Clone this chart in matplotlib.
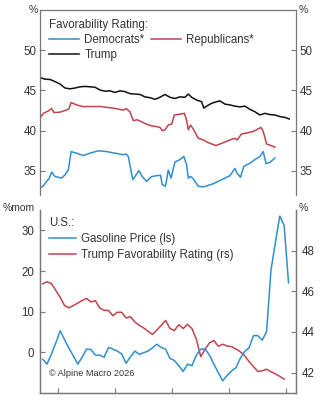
import matplotlib
matplotlib.use("Agg")
import matplotlib.pyplot as plt
import numpy as np

plt.rcParams['font.family'] = ['Liberation Sans', 'DejaVu Sans']

BLUE = '#2f8fce'
RED = '#c0444b'
BLACK = '#111111'
SPINE = '#777777'
TXT = '#333333'

# ---------------- Top panel data (day index) ----------------
trump_days = [0, 9, 18, 27, 36, 45, 54, 63, 72, 81, 90, 99, 108, 117, 126, 135, 144, 153,
              162, 171, 180, 189, 198, 207, 216, 225, 234, 243, 252, 261, 267, 273, 282,
              291, 295, 300, 309, 318, 324, 333, 342, 351, 360, 369, 378, 387, 396, 405,
              414, 423, 432, 441, 449]
trump_vals = [46.6, 46.4, 46.36, 46.1, 45.8, 45.3, 45.2, 45.3, 45.45, 45.5, 45.45, 45.4,
              45.05, 44.9, 44.95, 44.75, 44.95, 44.85, 44.6, 44.55, 44.5, 44.2, 44.1, 43.9,
              44.15, 44.5, 44.15, 44.0, 44.2, 44.15, 44.55, 44.15, 43.8, 43.6, 42.8, 43.05,
              43.4, 43.6, 43.7, 43.3, 43.2, 43.05, 42.95, 43.05, 42.65, 42.35, 41.95, 42.15,
              42.0, 41.95, 41.75, 41.65, 41.45]

rep_days = [0, 6, 15, 21, 25, 36, 45, 52, 56, 66, 77, 108, 132, 150, 155, 162, 168, 175,
            183, 192, 201, 210, 216, 220, 225, 231, 237, 242, 252, 260, 264, 267, 271, 276,
            285, 294, 303, 317, 330, 342, 351, 355, 363, 372, 384, 398, 402, 408, 414, 423]
rep_vals = [41.55, 42.15, 42.45, 42.75, 42.25, 42.3, 42.5, 42.7, 43.5, 43.2, 43.0, 43.0,
            42.8, 42.55, 42.75, 42.35, 41.25, 41.35, 41.1, 40.8, 40.6, 40.5, 40.4, 40.0,
            40.1, 40.7, 40.8, 41.95, 42.05, 42.15, 41.3, 40.1, 40.7, 40.2, 39.05, 38.85,
            38.5, 38.15, 38.5, 38.85, 39.05, 38.85, 39.6, 39.7, 39.9, 40.4, 39.9, 38.35,
            38.2, 37.95]

dem_days = [0, 6, 12, 17, 21, 27, 39, 45, 51, 56, 66, 78, 90, 105, 120, 135, 150, 155,
            159, 167, 171, 178, 184, 192, 201, 210, 217, 220, 226, 231, 236, 243, 252, 259,
            264, 267, 271, 275, 285, 294, 312, 327, 342, 351, 355, 361, 367, 378, 387, 396,
            402, 407, 414, 423]
dem_vals = [32.85, 33.15, 33.7, 34.1, 34.85, 34.3, 34.1, 34.5, 35.1, 37.4, 37.2, 36.9,
            37.2, 37.5, 37.4, 37.2, 37.0, 37.1, 36.8, 33.9, 34.3, 35.05, 34.3, 33.7, 34.3,
            34.4, 34.45, 33.3, 33.1, 35.1, 34.1, 36.1, 36.4, 36.8, 35.75, 34.1, 34.3, 34.1,
            33.1, 33.0, 33.4, 33.9, 34.4, 35.3, 34.7, 34.2, 35.55, 35.95, 36.4, 36.8, 37.4,
            35.9, 36.05, 36.6]

# ---------------- Bottom panel data (monthly) ----------------
gasoline_mom = [-1.7, -2.9, -0.4, 2.3, 5.3, 3.1, 1.0, -0.9, -2.9, -1.2,
                0.8, 0.7, -0.7, -0.7, -1.2, 1.2, 0.8, 0.3, -0.4, -2.7,
                -1.1, 0.3, -0.5, -0.1, 0.3, 1.1, 2.0, 1.2, 0.8, -1.5,
                -2.0, -3.3, -4.7, -2.9, -3.3, -0.7, 0.8, 0.8, -0.7, -2.9,
                -5.0, -7.0, -5.7, -4.6, -3.8, -1.5, 0.2, 1.1, 4.1, 4.1,
                3.0, 5.1, 20.2, 27.0, 33.5, 31.2, 17.1]
trump_fav_monthly = [46.37, 46.47, 46.38, 46.05, 45.70, 45.30, 45.19, 45.30, 45.42, 45.55,
                     45.65, 45.48, 45.54, 45.18, 45.07, 45.06, 44.80, 44.97, 44.97, 44.69,
                     44.75, 44.49, 44.33, 44.20, 44.04, 43.88, 44.09, 44.33, 44.57, 44.17,
                     44.07, 44.36, 44.17, 44.38, 44.17, 43.65, 42.79, 43.15, 43.47, 43.58,
                     43.30, 43.40, 43.31, 43.28, 43.17, 43.03, 42.84, 42.55, 42.30, 42.06,
                     42.09, 42.17, 42.05, 41.94, 41.82, 41.68]

top_ticks = [35, 40, 45, 50]
left_ticks_b = [0, 10, 20, 30]
right_ticks_b = [42, 44, 46, 48]

W, H = 324, 400
fig = plt.figure(figsize=(W / 100, H / 100), dpi=100)

def fx(p):
    return p / W

def fy(p):
    return 1 - p / H

LW = 1.1
FS = 8.3

# ---------------- Top axes ----------------
ax1 = fig.add_axes([fx(40), fy(195), (296 - 40) / W, (195 - 10) / H])
l_dem, = ax1.plot(dem_days, dem_vals, color=BLUE, lw=LW)
l_rep, = ax1.plot(rep_days, rep_vals, color=RED, lw=LW)
l_tr, = ax1.plot(trump_days, trump_vals, color=BLACK, lw=LW)
ax1.set_xlim(0, 461)
ax1.set_ylim(32, 55)
ax1.set_yticks(top_ticks)
ax1.set_xticks([])
ax1.tick_params(axis='y', direction='in', length=3.5, width=0.8, colors=SPINE,
                labelcolor=TXT, labelsize=FS, pad=2.5, right=True, labelright=True)
for s in ['left', 'right', 'top']:
    ax1.spines[s].set_color(SPINE)
    ax1.spines[s].set_linewidth(0.9)
ax1.spines['bottom'].set_visible(False)

leg1 = ax1.legend([l_dem, l_tr, l_rep], ['Democrats*', 'Trump', 'Republicans*'],
                  ncol=2, frameon=False, title='Favorability Rating:',
                  alignment='left', fontsize=FS, title_fontsize=FS,
                  handlelength=2.6, handletextpad=0.45, columnspacing=0.6,
                  labelspacing=0.25, borderaxespad=0, loc='upper left',
                  bbox_to_anchor=(fx(44.5), fy(14.5)), bbox_transform=fig.transFigure)
for t in leg1.get_texts():
    t.set_color(TXT)
leg1.get_title().set_color(TXT)

fig.text(fx(33), fy(10), '%', ha='center', va='center', fontsize=7.5, color=TXT)
fig.text(fx(303), fy(10), '%', ha='center', va='center', fontsize=7.5, color=TXT)

# ---------------- Bottom axes ----------------
ax2 = fig.add_axes([fx(40), fy(393), (296 - 40) / W, (393 - 210) / H])
ax3 = ax2.twinx()
x_gas = np.arange(len(gasoline_mom))
x_fav = np.arange(len(trump_fav_monthly))
l_gas, = ax2.plot(x_gas, gasoline_mom, color=BLUE, lw=LW, zorder=3)
l_fav, = ax3.plot(x_fav, trump_fav_monthly, color=RED, lw=LW)
ax2.set_zorder(ax3.get_zorder() + 1)
ax2.patch.set_visible(False)

ax2.set_xlim(-0.6, 57.7)
ax2.set_ylim(-10, 35)
ax3.set_ylim(41, 50)
ax2.set_yticks(left_ticks_b)
ax3.set_yticks(right_ticks_b)
ax2.set_xticks([3.6, 16.5, 29.4, 42.45, 55.35])
ax2.set_xticklabels([])
ax2.tick_params(axis='x', direction='in', length=3.5, width=0.8, colors=SPINE)
ax2.tick_params(axis='y', direction='in', length=3.5, width=0.8, colors=SPINE,
                labelcolor=TXT, labelsize=FS, pad=4)
ax3.tick_params(axis='y', direction='in', length=3.5, width=0.8, colors=SPINE,
                labelcolor=TXT, labelsize=FS, pad=4)
for a in (ax2, ax3):
    for s in ['left', 'right', 'bottom']:
        a.spines[s].set_color(SPINE)
        a.spines[s].set_linewidth(0.9)
    a.spines['top'].set_visible(False)

leg2 = ax2.legend([l_gas, l_fav], ['Gasoline Price (ls)', 'Trump Favorability Rating (rs)'],
                  frameon=False, title='U.S.:', alignment='left', fontsize=FS,
                  title_fontsize=FS, handlelength=2.3, handletextpad=0.45,
                  labelspacing=0.35, borderaxespad=0, loc='upper left',
                  bbox_to_anchor=(fx(44.5), fy(212)), bbox_transform=fig.transFigure)
for t in leg2.get_texts():
    t.set_color(TXT)
leg2.get_title().set_color(TXT)

ax2.text(0.035, 0.105, '\u00a9 Alpine Macro 2026', transform=ax2.transAxes,
         fontsize=6.6, color=TXT, ha='left', va='center')

fig.text(fx(18.5), fy(208), '%mom', ha='center', va='center', fontsize=7.5, color=TXT)
fig.text(fx(303), fy(208), '%', ha='center', va='center', fontsize=7.5, color=TXT)

fig.savefig('out.png', dpi=100)
